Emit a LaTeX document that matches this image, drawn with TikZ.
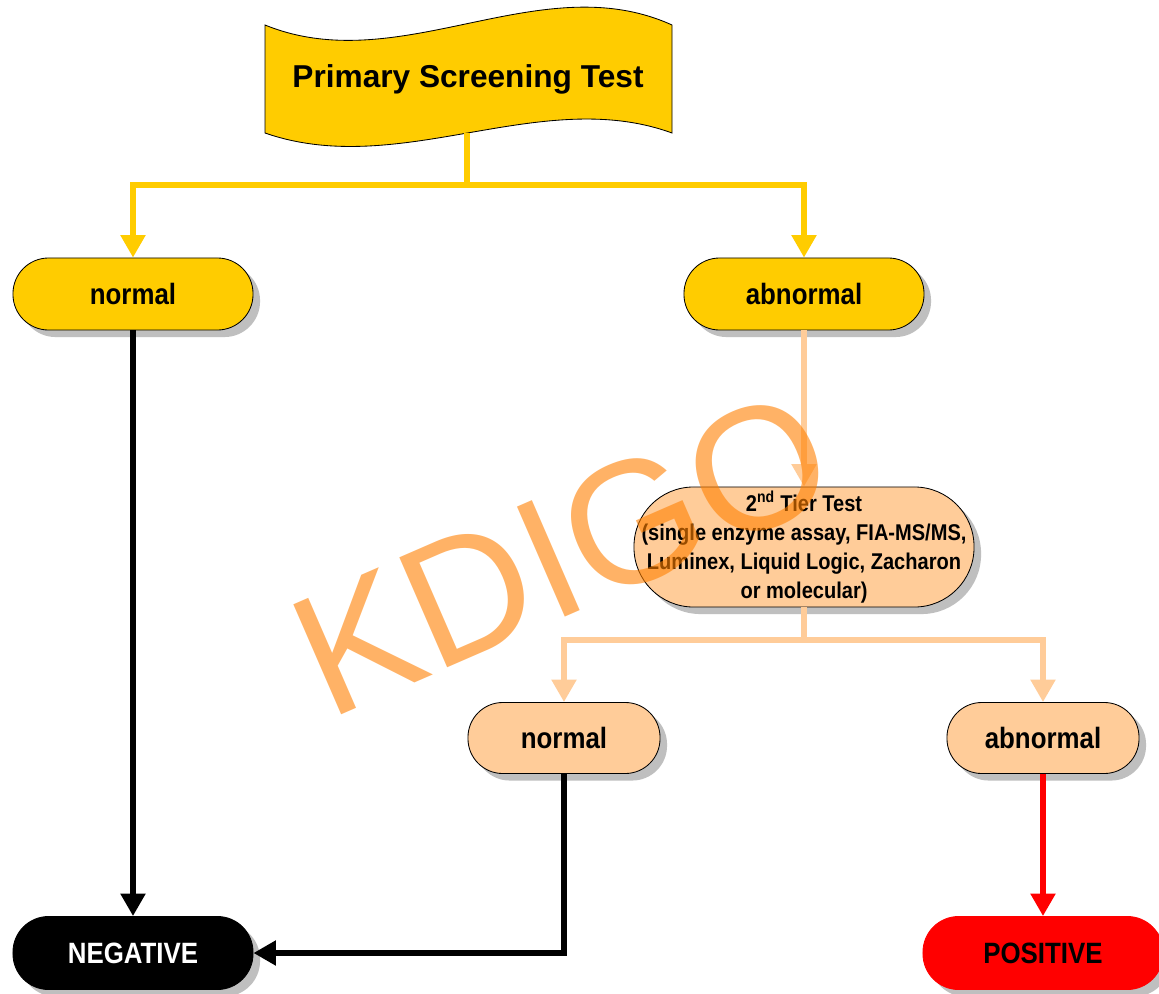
\documentclass[tikz,border=0pt]{standalone}
\usepackage{fontspec}
\setmainfont{Liberation Sans}
\newfontfamily\narrowsans{Liberation Sans}[FakeStretch=0.88]
\usepackage{tikz}
\usetikzlibrary{arrows.meta, shadows, positioning}
\definecolor{ScreenYellow}{RGB}{255, 204, 0}
\definecolor{TierPeach}{RGB}{255, 204, 153}
\definecolor{MarkOrange}{RGB}{255, 128, 0}

\begin{document}
\begin{tikzpicture}[
    x=0.025cm, y=-0.025cm,
    pill/.style={rectangle, draw=black, line width=0.6pt, rounded corners=0.89cm,
                 minimum width=6cm, minimum height=1.8cm, align=center,
                 font=\narrowsans\bfseries\fontsize{20.9}{24}\selectfont,
                 drop shadow={shadow xshift=5pt, shadow yshift=-5pt, fill=black!25, opacity=1}},
    smallpill/.style={pill, minimum width=4.8cm, minimum height=1.775cm, rounded corners=0.87cm},
    flow/.style={line width=3.9pt, -{Triangle[width=17pt, length=16pt]}},
    watermark/.style={inner sep=0pt, rotate=23.5, text=MarkOrange, text opacity=0.6,
                      font=\fontsize{124}{124}\selectfont}
]

\fill[white] (0,0) rectangle (1159,994);
\useasboundingbox (0,0) rectangle (1159,994);

% banner
\filldraw[fill=ScreenYellow, draw=black, line width=0.6pt]
    (265,25) .. controls (400,80) and (540,-35) .. (672,25)
    -- (672,133) .. controls (540,85) and (400,180) .. (265,133) -- cycle;
\node[font=\bfseries\fontsize{22.5}{26}\selectfont] (prim) at (468,79) {Primary Screening Test};
\coordinate (primbot) at (467,133);
\coordinate (fork1) at (467,185);

% first results
\node[pill, fill=ScreenYellow] (n1) at (133,294) {normal};
\node[pill, fill=ScreenYellow] (a1) at (804,294) {abnormal};

% second tier
\node[pill, fill=TierPeach, minimum width=8.5cm, minimum height=3cm, rounded corners=1.49cm,
      inner sep=0pt, font=\narrowsans\bfseries\fontsize{16.2}{20.6}\selectfont] (tier) at (804,547)
    {2\textsuperscript{nd} Tier Test\\(single enzyme assay, FIA-MS/MS,\\Luminex, Liquid Logic, Zacharon\\or molecular)};
\coordinate (fork2) at (804,640);
\node[smallpill, fill=TierPeach] (n2) at (564,738) {normal};
\node[smallpill, fill=TierPeach] (a2) at (1043,738) {abnormal};

% outcomes
\node[pill, fill=black, text=white, minimum height=1.825cm] (neg) at (133,953) {NEGATIVE};
\node[pill, fill=red, draw=red, minimum height=1.825cm] (pos) at (1043,953) {POSITIVE};

% connectors
\draw[flow, ScreenYellow] (primbot) -- (fork1) -| (n1);
\draw[flow, ScreenYellow] (fork1) -| (a1);
\draw[flow, TierPeach] (a1) -- (tier);
\draw[flow, TierPeach] (tier) -- (fork2) -| (n2);
\draw[flow, TierPeach] (fork2) -| (a2);
\draw[flow, black] (n1) -- (neg);
\draw[flow, black] (n2) |- (neg);
\draw[flow, red] (a2) -- (pos);

\node[watermark] (wm) at (562,553) {KDIGO};

\end{tikzpicture}
\end{document}
